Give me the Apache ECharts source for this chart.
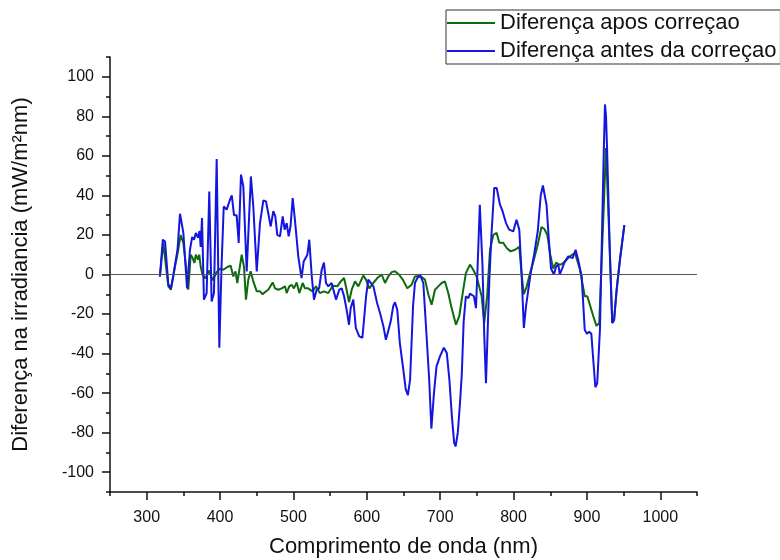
<!DOCTYPE html>
<html><head><meta charset="utf-8">
<script src="https://cdn.jsdelivr.net/npm/echarts@6/dist/echarts.min.js"></script>
<style>html,body{margin:0;padding:0;background:#fff}#c{width:780px;height:560px}</style>
</head><body><div id="c"></div>
<script>
// Diferença antes da correçao (blue)
const wlAntes = [318,322,325,329.5,333,336,342,345.4,350,355,359,362,364.5,367,370,372,373.6,375.4,378,381.7,385.3,388.5,391.7,395.4,399,402,405,409,413.5,416,419,422.6,425.4,428.5,431.7,436.3,442,445.3,450,454.4,459,462.6,465.7,469,472.6,475.3,478,481.7,485.4,488,490.8,493.5,496,499,502,506.6,511,514,519,521.6,525,528,531.7,535,538.5,541.6,544.4,547.5,552,558,562.5,565.7,569,572.5,575.7,578,581.6,585,589.7,594,599,602,604,609,614,618,622.5,626,629,632.6,636,638.4,641.5,645,649.7,653,656,659,663,665.6,668.8,673,677,680.6,685,688,691.5,695,699.7,705,709,712.5,716,719,721,724,727,729.5,732,735,738.3,740.6,743.3,746,748.8,751,754,757.7,760,762.4,765,767,770,773.7,777,781.5,785,789.7,794,799.6,804,807.8,811,814,817,820,823,828,833,837,840,842.5,845,848,851,855,858,861,863,865.5,870,874.6,880.5,884.6,888,892.8,897,900,903,906,909,911.5,914,917.7,921,923,924.6,926,927.5,931.4,934.5,937,940.5,945,951];
const valAntes = [-1,17.6,16.7,-5,-7,-1,12.5,30.7,21,-7,12.5,19,17.6,21,18.6,22,14,28.6,-12.7,-9.4,42,-13.6,-9.4,58.4,-37,4,34.4,32.8,37.8,40,30,30,16,50.5,44.6,1.6,49.6,34.4,1.6,26,37.5,37,31,24.3,32,29.4,20,19.3,29.4,22.7,26,19.3,24.3,38.7,27.7,9.2,-1.8,6.6,10,17.6,-1,-12.7,-7.7,-7,2.4,6,-4.3,-6,-4.3,-12.7,-7.7,-7,-11,-17.8,-25.4,-17,-12.7,-27,-31.3,-32,-11,-2.6,-3.5,-6,-14.4,-19.5,-26,-33,-28.8,-23.7,-16,-14,-17.8,-34.6,-48,-58,-61,-53,-16,-4.3,-1.8,-0.6,-4.3,-26,-53,-78,-60,-46.5,-41.4,-37,-39.7,-53,-72,-85,-87,-80,-65,-50,-23.7,-11,-12,-9.7,-9.4,-11,-17,4,35.3,4,-30,-55,-25,-2.6,21,43.8,43.8,35.3,32,26,22.7,21.8,27.7,22.7,0,-27,-16,-8,0,10,22,40,45,44,35,18,3,0,4,5,0,0.7,6.6,9.2,8.3,12.5,7.5,-1,-28,-30,-29,-30,-45,-57,-55,-28,29,63,86,80,63,9,-24.5,-23,-7.7,7.5,25];
// Diferença apos correçao (green)
const wlApos = [318,322.6,329.5,333,338.6,343,346.3,350,354.5,356.7,360,362.7,365,367,370,371.7,373.6,376,380,385,390,395,400,404.5,410,414.5,418,421,423.5,427,429.5,432.6,435.3,438.5,441.7,445.3,450,454.4,458,462.6,465.7,471.7,474.9,479.4,484,488.5,490.8,494.3,497.6,500.7,504.4,508,512.6,515.7,520,526,530.7,536,541.6,547.5,553.5,559.8,564.4,569,572.5,575.7,579.4,583.9,588.4,595.2,598.9,603.4,608.8,614.3,620.3,624.8,629.3,633.9,638.4,643.8,649.7,655.2,661,665.6,672.4,679.3,683.8,688.3,692.9,697.4,702,706.5,711,715.6,721.5,726,730.7,735,740.6,745,749.7,756.5,760,764,767.9,772.4,777,780.5,786,790.6,796,802,807.8,811,814,818,822,828,833,838,842,846,850,854,858,862,865,870,876,883.7,890.5,897,900.5,903,908.6,913,916.8,926,931.4,934.5,937,940.5,945,951];
const valApos = [-1,16,-6,-7.7,4,12.5,20,16,0.7,-7.7,10,8.3,5.8,10,7.5,10,4,0,-2,2,-3,1,3,2.4,3.8,4.4,-1,1.6,-4.3,4,10,4,-12.7,-2.6,1.6,-3.5,-8.5,-8.5,-10,-8.5,-7.7,-4,-7,-7.7,-7,-6,-9.4,-6,-5.2,-7,-4,-9.4,-4.3,-7,-7,-8.5,-6,-9.4,-8.5,-9.4,-5.7,-6,-3.5,-1.8,-7.7,-14,-7.7,-3.5,-6,-0.6,-2.6,-7,-4.3,-1.8,0,-4.3,-1,1.2,1.6,0,-3,-7,-5.2,-1,-0.6,-2.6,-10,-15.3,-7.7,-6,-4.3,-3.5,-9.4,-17,-25.4,-21,-9.4,0.7,5,2.4,-1,-11,-24.5,-11,12.5,20,21,16,16,13.4,11.7,12.5,14,0,-10,-6,0,8,15,24,23,20,10,3,6,5,5,6.6,9,11,2.4,-11,-11,-12,-21,-26,-24.5,64,9,-24.5,-23,-7.7,7.5,25];

const xMajorTicks = [300,400,500,600,700,800,900,1000];
const xMinorTicks = [250,350,450,550,650,750,850,950,1050];
const yMajorTicks = [-100,-80,-60,-40,-20,0,20,40,60,80,100];
const yMinorTicks = [-110,-90,-70,-50,-30,-10,10,30,50,70,90,110];

const zip = (a, b) => a.map((v, i) => [v, b[i]]);
const FONT = 'Liberation Sans, Arial, sans-serif';
const axisLine = { show: true, onZero: false, lineStyle: { color: '#111', width: 1.5 } };

const chart = echarts.init(document.getElementById('c'), null, { renderer: 'canvas' });
chart.setOption({
  animation: false,
  backgroundColor: '#fff',
  textStyle: { fontFamily: FONT },
  grid: { left: 110, right: 83, top: 57, bottom: 68, containLabel: false, outerBoundsMode: 'none' },
  legend: {
    orient: 'vertical', left: 446, top: 10,
    padding: [2, 4, 2, 1],
    borderColor: '#333', borderWidth: 1,
    icon: 'rect', itemWidth: 48, itemHeight: 2, itemGap: 6,
    textStyle: { fontSize: 22, color: '#111', fontFamily: FONT },
    data: ['Diferença apos correçao', 'Diferença antes da correçao']
  },
  xAxis: [{
    type: 'value', min: 250, max: 1050,
    name: 'Comprimento de onda (nm)', nameLocation: 'middle', nameGap: 44,
    nameTextStyle: { fontSize: 22, color: '#111', fontFamily: FONT },
    axisLine: axisLine,
    axisTick: { show: true, inside: false, length: 8, customValues: xMajorTicks, lineStyle: { color: '#111', width: 1.5 } },
    axisLabel: { show: true, customValues: xMajorTicks, formatter: v => String(v), fontSize: 16, color: '#111', margin: 18, fontFamily: FONT },
    splitLine: { show: false }
  }, {
    type: 'value', min: 250, max: 1050, position: 'bottom',
    axisLine: { show: false, onZero: false },
    axisTick: { show: true, length: 4, customValues: xMinorTicks, lineStyle: { color: '#111', width: 1.5 } },
    axisLabel: { show: false }, splitLine: { show: false }
  }],
  yAxis: [{
    type: 'value', min: -110, max: 110,
    name: 'Diferença na irradiancia (mW/m²nm)', nameLocation: 'middle', nameGap: 78,
    nameTextStyle: { fontSize: 22, color: '#111', fontFamily: FONT },
    axisLine: axisLine,
    axisTick: { show: true, length: 8, customValues: yMajorTicks, lineStyle: { color: '#111', width: 1.5 } },
    axisLabel: { show: true, customValues: yMajorTicks, formatter: v => String(v), fontSize: 16, color: '#111', margin: 16, fontFamily: FONT },
    splitLine: { show: false }
  }, {
    type: 'value', min: -110, max: 110, position: 'left',
    axisLine: { show: false, onZero: false },
    axisTick: { show: true, length: 4, customValues: yMinorTicks, lineStyle: { color: '#111', width: 1.5 } },
    axisLabel: { show: false }, splitLine: { show: false }
  }],
  series: [{
    name: 'Diferença apos correçao', type: 'line',
    data: zip(wlApos, valApos),
    symbol: 'none', lineStyle: { color: '#0d6b0d', width: 2 }, itemStyle: { color: '#0d6b0d' },
    markLine: {
      silent: true, symbol: 'none', label: { show: false },
      lineStyle: { color: '#555', width: 1, type: 'solid' },
      data: [{ yAxis: 0 }]
    }
  }, {
    name: 'Diferença antes da correçao', type: 'line',
    data: zip(wlAntes, valAntes),
    symbol: 'none', lineStyle: { color: '#1515e0', width: 2 }, itemStyle: { color: '#1515e0' }
  }]
});
</script>
</body></html>
